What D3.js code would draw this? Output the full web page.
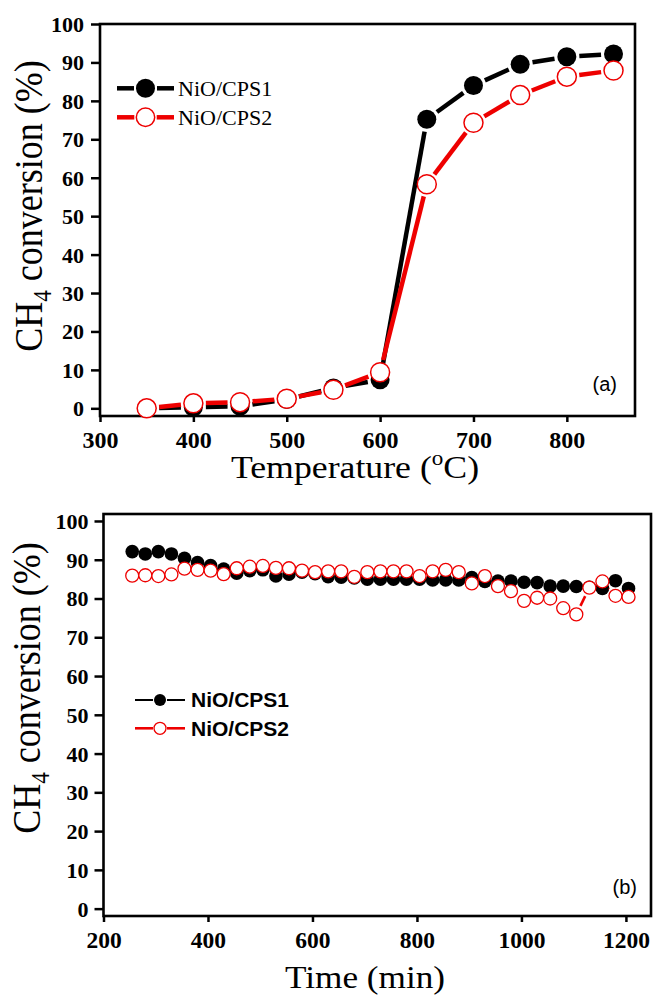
<!DOCTYPE html>
<html>
<head>
<meta charset="utf-8">
<script src="https://cdn.jsdelivr.net/npm/d3@7"></script>
<style>
  html, body { margin: 0; padding: 0; background: #ffffff; }
  svg { display: block; }
</style>
</head>
<body>
<svg id="fig" width="653" height="996"></svg>
<script>
// ---- Panel (a): light-off curves versus temperature ----
const tempC = [350, 400, 450, 500, 550, 600, 650, 700, 750, 800, 850];
const cps1Temp = [0.0, 0.3, 0.5, 2.3, 5.3, 7.4, 75.2, 84.0, 89.5, 91.5, 92.2];
const cps2Temp = [0.0, 1.3, 1.6, 2.5, 4.8, 9.4, 58.3, 74.3, 81.5, 86.3, 87.9];
const tempTicks = [300, 400, 500, 600, 700, 800];

// ---- Panel (b): stability test versus time on stream ----
const timeMin = [255, 280, 305, 330, 355, 380, 405, 430, 455, 480, 505, 530, 555,
                 580, 605, 630, 655, 680, 705, 730, 755, 780, 805, 830, 855, 880,
                 905, 930, 955, 980, 1005, 1030, 1055, 1080, 1105, 1130, 1155, 1180, 1205];
const cps1Time = [92.1, 91.5, 92.1, 91.5, 90.4, 89.3, 88.5, 87.6, 86.5, 87.2, 87.4, 85.8, 86.3,
                  86.8, 86.4, 85.6, 85.5, 85.3, 85.0, 85.0, 85.0, 85.0, 85.0, 84.8, 84.8, 84.8,
                  85.4, 84.4, 84.5, 84.5, 84.2, 84.1, 83.2, 83.2, 83.1, 82.9, 82.6, 84.6, 82.6];
const cps2Time = [85.9, 86.0, 85.8, 86.2, 87.7, 87.4, 87.2, 86.3, 87.8, 88.2, 88.4, 87.9, 87.8,
                  87.2, 86.8, 87.0, 87.0, 85.6, 86.8, 87.0, 87.0, 87.0, 85.8, 87.0, 87.4, 86.8,
                  83.9, 85.8, 83.2, 81.9, 79.4, 80.2, 80.0, 77.5, 75.9, 82.8, 84.4, 80.7, 80.4];
const timeTicks = [200, 400, 600, 800, 1000, 1200];

const convTicks = [0, 10, 20, 30, 40, 50, 60, 70, 80, 90, 100];
const seriesNames = ["NiO/CPS1", "NiO/CPS2"];

const RED = "#ee0000";
const BLACK = "#000000";
const SERIF = "'Liberation Serif', 'Times New Roman', serif";
const SANS = "'Liberation Sans', Arial, sans-serif";

const svg = d3.select("#fig");

// Connect consecutive points with segments that stop short of each marker.
function gappedLine(g, xs, ys, x, y, gap, color, width) {
  for (let i = 0; i < xs.length - 1; i++) {
    const x0 = x(xs[i]), y0 = y(ys[i]), x1 = x(xs[i + 1]), y1 = y(ys[i + 1]);
    const dx = x1 - x0, dy = y1 - y0, len = Math.hypot(dx, dy);
    if (len <= 2 * gap) continue;
    const ux = dx / len, uy = dy / len;
    g.append("line")
      .attr("x1", x0 + ux * gap).attr("y1", y0 + uy * gap)
      .attr("x2", x1 - ux * gap).attr("y2", y1 - uy * gap)
      .attr("stroke", color).attr("stroke-width", width)
      .attr("stroke-linecap", "butt");
  }
}

// Vertical axis title with subscripted 4, glyphs slightly widened
function yTitle(g, cx, cy) {
  const t = g.append("text")
    .attr("transform", `translate(${cx},${cy}) rotate(-90) scale(1,1.1)`)
    .attr("text-anchor", "middle")
    .style("font-family", SERIF).style("font-size", "36px").attr("fill", "#000");
  t.append("tspan").text("CH");
  t.append("tspan").style("font-size", "23px").attr("dy", 8).text("4");
  t.append("tspan").attr("dy", -8).text(" conversion (%)");
}

// Horizontal axis title, glyphs slightly widened
function xTitle(g, cx, baseline, size) {
  return g.append("text")
    .attr("transform", `translate(${cx},${baseline}) scale(1.1,1)`)
    .attr("text-anchor", "middle")
    .style("font-family", SERIF).style("font-size", size + "px").attr("fill", "#000");
}

function drawPanel(cfg) {
  const g = svg.append("g");
  const x = d3.scaleLinear().domain(cfg.xDomain).range(cfg.xRange);
  const y = d3.scaleLinear().domain(cfg.yDomain).range(cfg.yRange);

  // axes with outward ticks
  const xAxis = g.append("g")
    .attr("transform", `translate(0,${cfg.yRange[0]})`)
    .call(d3.axisBottom(x).tickValues(cfg.xTicks).tickFormat(d3.format("d"))
      .tickSize(6).tickSizeOuter(0).tickPadding(9));
  const yAxis = g.append("g")
    .attr("transform", `translate(${cfg.xRange[0]},0)`)
    .call(d3.axisLeft(y).tickValues(convTicks).tickFormat(d3.format("d"))
      .tickSize(9).tickSizeOuter(0).tickPadding(cfg.yPad));
  [xAxis, yAxis].forEach(a => {
    a.attr("font-family", null).attr("font-size", null);
    a.select(".domain").remove();
    a.selectAll(".tick line").attr("stroke", "#000").attr("stroke-width", 2.5);
    a.selectAll(".tick text").attr("fill", "#000")
      .style("font-family", SERIF).style("font-weight", "bold");
  });
  xAxis.selectAll(".tick text").style("font-size", cfg.xTickFont + "px");
  yAxis.selectAll(".tick text").style("font-size", "22px").attr("dy", "0.34em");

  // frame
  g.append("rect")
    .attr("x", cfg.xRange[0]).attr("y", cfg.yRange[1])
    .attr("width", cfg.xRange[1] - cfg.xRange[0])
    .attr("height", cfg.yRange[0] - cfg.yRange[1])
    .attr("fill", "none").attr("stroke", "#000").attr("stroke-width", 2.6);

  // series: black filled first, red open circles on top
  const m = cfg.marker;
  gappedLine(g, cfg.xs, cfg.s1, x, y, m.r1 + 3, BLACK, cfg.lineW1);
  g.append("g").selectAll("circle").data(cfg.xs.map((v, i) => [v, cfg.s1[i]]))
    .join("circle")
    .attr("cx", d => x(d[0])).attr("cy", d => y(d[1])).attr("r", m.r1)
    .attr("fill", BLACK);
  gappedLine(g, cfg.xs, cfg.s2, x, y, m.r2 + 3, RED, cfg.lineW2);
  g.append("g").selectAll("circle").data(cfg.xs.map((v, i) => [v, cfg.s2[i]]))
    .join("circle")
    .attr("cx", d => x(d[0])).attr("cy", d => y(d[1])).attr("r", m.r2)
    .attr("fill", "#fff").attr("stroke", RED).attr("stroke-width", m.sw);

  // legend
  const L = cfg.legend;
  seriesNames.forEach((name, i) => {
    const ly = L.y + i * L.dy;
    const color = i === 0 ? BLACK : RED;
    const r = i === 0 ? L.r1 : L.r2;
    const gap = r + L.gap;
    const lw = i === 0 ? L.lw1 : L.lw2;
    g.append("line").attr("x1", L.x0).attr("x2", L.xm - gap).attr("y1", ly).attr("y2", ly)
      .attr("stroke", color).attr("stroke-width", lw);
    g.append("line").attr("x1", L.xm + gap).attr("x2", L.x1).attr("y1", ly).attr("y2", ly)
      .attr("stroke", color).attr("stroke-width", lw);
    g.append("circle").attr("cx", L.xm).attr("cy", ly).attr("r", r)
      .attr("fill", i === 0 ? BLACK : "#fff")
      .attr("stroke", i === 0 ? "none" : RED).attr("stroke-width", m.sw);
    g.append("text").attr("x", L.tx).attr("y", ly).attr("dy", "0.35em")
      .style("font-family", L.font).style("font-weight", L.weight)
      .style("font-size", L.size + "px").attr("fill", "#000").text(name);
  });

  // panel tag
  g.append("text").attr("x", cfg.tag.x).attr("y", cfg.tag.y)
    .attr("text-anchor", "end").style("font-family", SANS).style("font-size", "20px")
    .attr("fill", "#000").text(cfg.tag.text);

  return g;
}

// Panel (a)
const ga = drawPanel({
  xDomain: [300, 873], xRange: [100, 635],
  yDomain: [-2, 100], yRange: [416, 24],
  xTicks: tempTicks, xTickFont: 24, yPad: 7,
  xs: tempC, s1: cps1Temp, s2: cps2Temp,
  marker: { r1: 9.5, r2: 9.5, sw: 1.5 },
  lineW1: 4.5, lineW2: 4.5,
  legend: { x0: 117, x1: 174, xm: 145.5, y: 88.3, dy: 29, r1: 9.5, r2: 9.2, gap: 2,
            lw1: 4.5, lw2: 4.5, tx: 178, font: SERIF, weight: "normal", size: 22 },
  tag: { x: 617, y: 391, text: "(a)" }
});
yTitle(ga, 42, 206);
{
  const t = xTitle(ga, 355, 478, 32.5);
  t.append("tspan").text("Temperature (");
  t.append("tspan").style("font-size", "21px").attr("dy", -13).text("o");
  t.append("tspan").attr("dy", 13).text("C)");
}

// Panel (b)
const gb = drawPanel({
  xDomain: [200, 1248], xRange: [103.5, 651],
  yDomain: [-1.9, 101.8], yRange: [916, 514],
  xTicks: timeTicks, xTickFont: 23.5, yPad: 6,
  xs: timeMin, s1: cps1Time, s2: cps2Time,
  marker: { r1: 6.8, r2: 6.5, sw: 1.3 },
  lineW1: 2.2, lineW2: 2.6,
  legend: { x0: 135, x1: 185, xm: 160, y: 700, dy: 28.3, r1: 6, r2: 6, gap: 1,
            lw1: 2, lw2: 2.6, tx: 191, font: SANS, weight: "bold", size: 21 },
  tag: { x: 637, y: 894, text: "(b)" }
});
yTitle(gb, 40, 688);
xTitle(gb, 365, 988, 32).text("Time (min)");
</script>
</body>
</html>
